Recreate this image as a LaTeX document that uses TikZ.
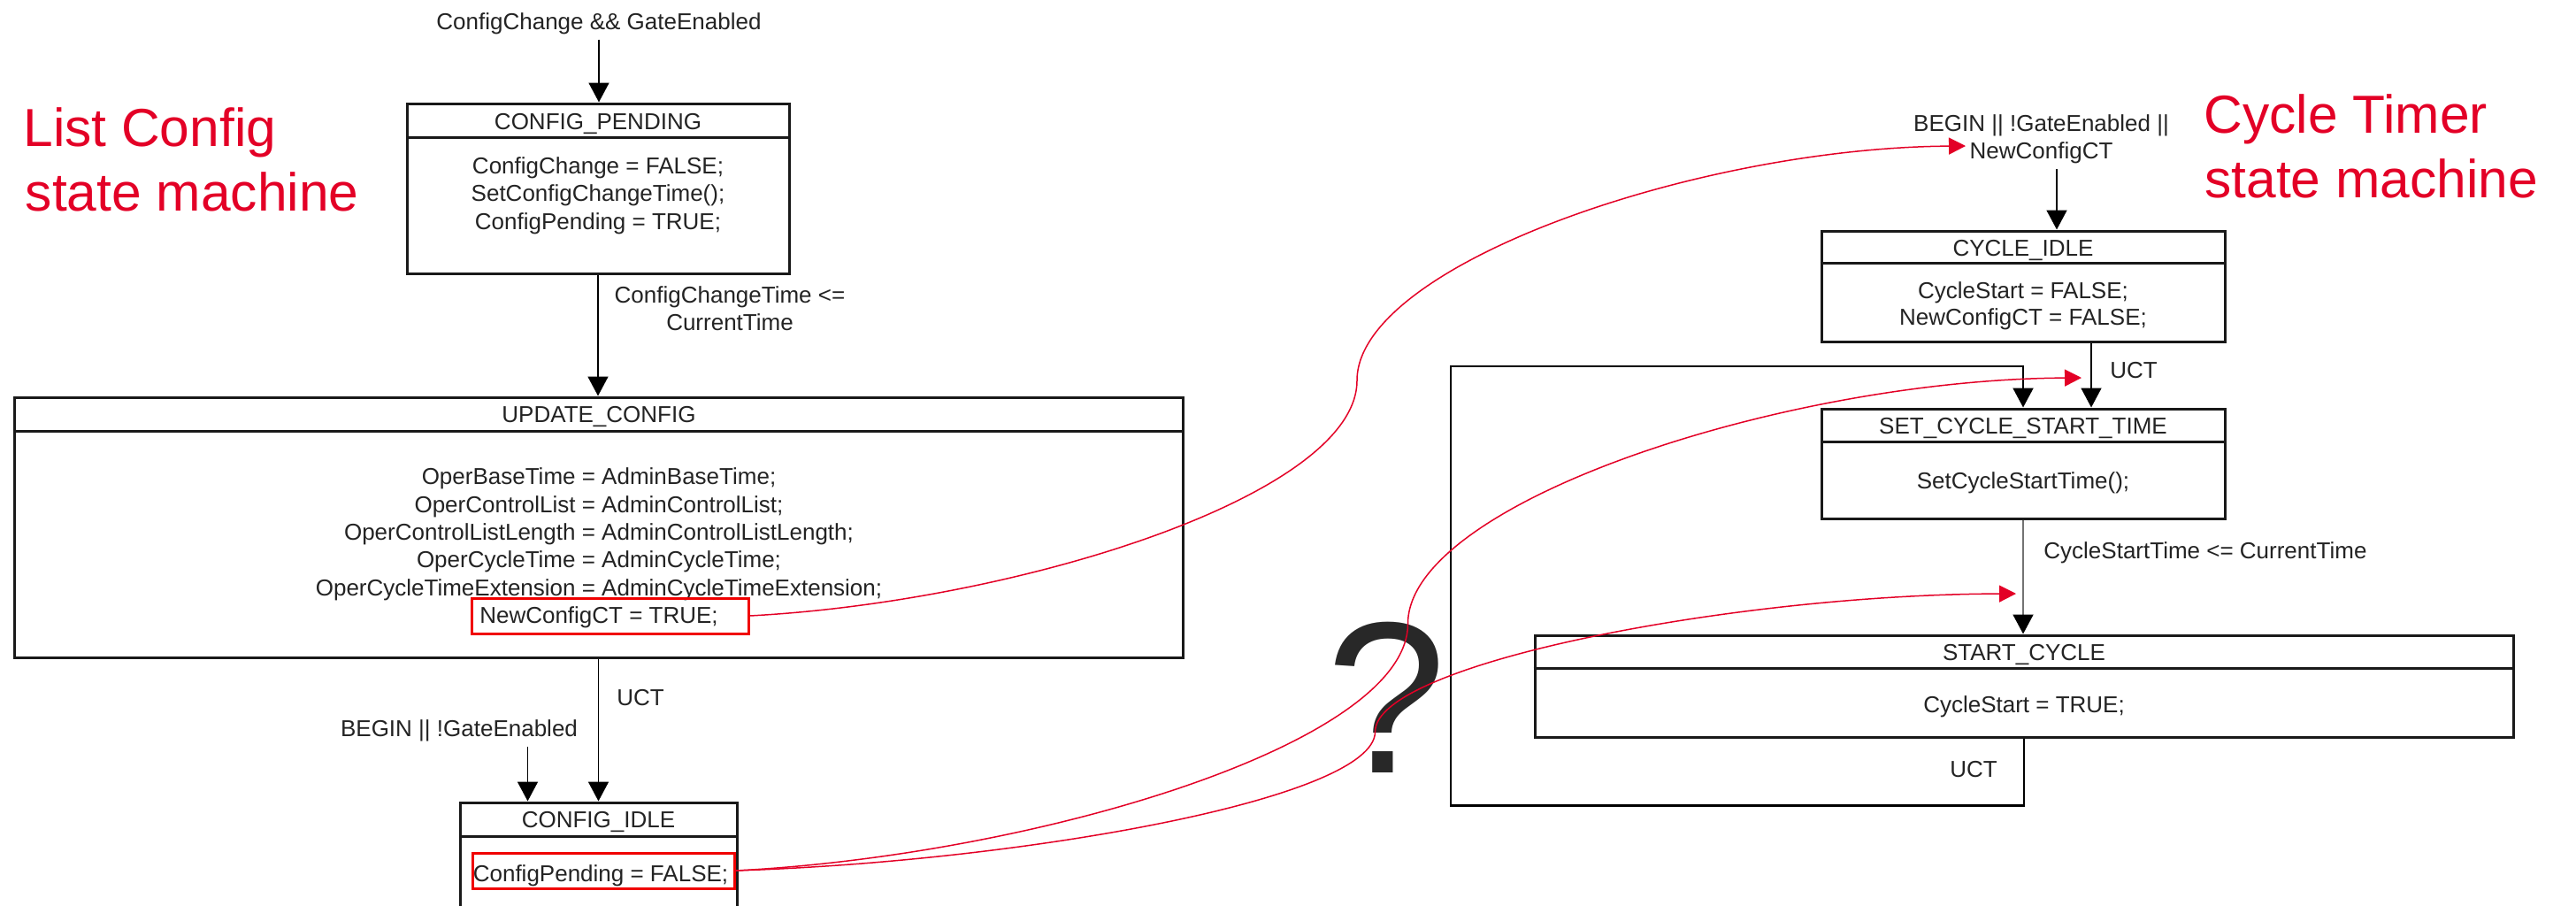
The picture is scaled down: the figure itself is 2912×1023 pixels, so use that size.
\documentclass[tikz,border=0pt]{standalone}
\usepackage{fontspec}
\setmainfont{Liberation Sans}
\usetikzlibrary{arrows.meta,calc}
\definecolor{crimson}{RGB}{227,0,38}
\definecolor{boxred}{RGB}{240,0,0}
\definecolor{ink}{RGB}{35,35,35}
\definecolor{qmark}{RGB}{40,40,40}

\begin{document}
\begin{tikzpicture}[x=0.5pt,y=-0.5pt,
  txt/.style={font=\fontsize{13}{15.6}\selectfont, text=ink, inner sep=0pt},
  lbl/.style={txt, outer sep=3pt},
  body/.style={txt, align=center, anchor=north},
  statebox/.style={draw=black!90, line width=1.5pt, inner sep=0pt},
  hdr/.style={draw=black!90, line width=1.5pt},
  conn/.style={draw=black, line width=0.9pt, -{Triangle[length=11pt,width=11.5pt,color=black]}},
  redcurve/.style={draw=crimson, line width=0.75pt, -{Triangle[length=9.5pt,width=9.5pt]}},
  hilite/.style={draw=boxred, line width=1.5pt, inner sep=0pt},
  bigred/.style={font=\fontsize{30.25}{36.5}\selectfont, text=crimson, inner sep=0pt, anchor=base west},
]
\path[use as bounding box] (0,0) rectangle (2912,1023);
\clip (0,0) rectangle (2912,1023);

% ---------- headings ----------
\node[bigred] (ttlL1) at (26,165) {List Config};
\node[bigred] (ttlL2) at (28.5,238) {state machine};
\node[bigred] (ttlR1) at (2491,150) {Cycle Timer};
\node[bigred] (ttlR2) at (2492,223) {state machine};

% ---------- list config state machine ----------
\node[lbl, anchor=base] (lblCC) at (677,33.3) {ConfigChange \&\& GateEnabled};

\node[statebox, minimum width=216pt, minimum height=96pt] (cp) at (676,213) {};
\draw[hdr] ($(cp.north west)+(0,40)$) -- ($(cp.north east)+(0,40)$);
\node[txt, anchor=base] (cpT) at (676,146.3) {CONFIG\_PENDING};
\node[body] (cpB) at (676,177.5) {ConfigChange = FALSE;\\SetConfigChangeTime();\\ConfigPending = TRUE;};

\node[statebox, minimum width=660.5pt, minimum height=147pt] (uc) at (676.5,596) {};
\draw[hdr] ($(uc.north west)+(0,40)$) -- ($(uc.north east)+(0,40)$);
\node[txt, anchor=base] (ucT) at (677,477.3) {UPDATE\_CONFIG};
\node[body, font=\fontsize{13}{15.7}\selectfont] (ucB) at (677,528.5) {OperBaseTime = AdminBaseTime;\\OperControlList = AdminControlList;\\OperControlListLength = AdminControlListLength;\\OperCycleTime = AdminCycleTime;\\OperCycleTimeExtension = AdminCycleTimeExtension;\\NewConfigCT = TRUE;};
\node[hilite, minimum width=156.5pt, minimum height=20pt] (ncbox) at (689.5,696) {};

\node[statebox, minimum width=156.5pt, minimum height=96.5pt] (ci) at (676.5,1003.5) {};
\draw[hdr] ($(ci.north west)+(0,40)$) -- ($(ci.north east)+(0,40)$);
\node[txt, anchor=base] (ciT) at (676.5,935.3) {CONFIG\_IDLE};
\node[txt, anchor=base] (ciB) at (679,996.3) {ConfigPending = FALSE;};
\node[hilite, minimum width=148pt, minimum height=20pt] (cpbox) at (682,984) {};

\draw[conn] (lblCC.south) -- (lblCC.south |- cp.north);
\draw[conn] (cp.south) -- (cp.south |- uc.north);
\node[txt, align=center, anchor=north] (lblCT) at (825,323.5) {ConfigChangeTime <=\\CurrentTime};
\draw[conn] (uc.south) -- (uc.south |- ci.north);
\node[txt, anchor=base west] (lblU1) at (697,797.3) {UCT};
\node[lbl, anchor=base] (lblBI) at (519,832.3) {BEGIN || !GateEnabled};
\coordinate (ciIn) at ($(ci.north)+(-80,0)$);
\draw[conn] (lblBI.south -| ciIn) -- (ciIn);

% ---------- cycle timer state machine ----------
\node[lbl, align=center, anchor=north] (lblBG) at (2307.5,123.5) {BEGIN || !GateEnabled ||\\NewConfigCT};

\node[statebox, minimum width=228pt, minimum height=62.5pt] (cyi) at (2287,323.5) {};
\draw[hdr] ($(cyi.north west)+(0,38)$) -- ($(cyi.north east)+(0,38)$);
\node[txt, anchor=base] (cyiT) at (2287,289.3) {CYCLE\_IDLE};
\node[body, font=\fontsize{13}{15}\selectfont] (cyiB) at (2287,318.5) {CycleStart = FALSE;\\NewConfigCT = FALSE;};
\coordinate (cyiIn) at ($(cyi.north)+(38,0)$);
\draw[conn] (lblBG.south -| cyiIn) -- (cyiIn);

\node[statebox, minimum width=228pt, minimum height=62pt] (sst) at (2287,524) {};
\draw[hdr] ($(sst.north west)+(0,39)$) -- ($(sst.north east)+(0,39)$);
\node[txt, anchor=base] (sstT) at (2287,490.3) {SET\_CYCLE\_START\_TIME};
\node[txt, anchor=base] (sstB) at (2287,552.3) {SetCycleStartTime();};

\coordinate (uctOut) at ($(cyi.south)+(77,0)$);
\draw[conn] (uctOut) -- (uctOut |- sst.north);
\node[txt, anchor=base west] (lblU2) at (2385,427.3) {UCT};

\node[statebox, minimum width=553pt, minimum height=57.5pt] (scyc) at (2288,775.5) {};
\draw[hdr] ($(scyc.north west)+(0,39)$) -- ($(scyc.north east)+(0,39)$);
\node[txt, anchor=base] (scycT) at (2288,746.3) {START\_CYCLE};
\node[txt, anchor=base] (scycB) at (2288,805.3) {CycleStart = TRUE;};

\draw[conn, draw=black!55] (sst.south) -- (sst.south |- scyc.north);
\node[txt, anchor=base west] (lblCST) at (2310,631.3) {CycleStartTime <= CurrentTime};

% loop back from START_CYCLE to SET_CYCLE_START_TIME
\draw[conn, line width=1.1pt] (scyc.south) -- ++(0,76) -| (1640,414) -| (sst.north);
\node[txt, anchor=base] (lblU3) at (2231,878.3) {UCT};

% ---------- open question and cross links ----------
\node[font=\fontsize{122}{130}\selectfont, text=qmark, inner sep=0pt, anchor=base] (qm) at (1567,873) {?};

\coordinate (tip1) at (2222,165);
\coordinate (tip2) at (2353,427);
\coordinate (tip3) at (2279,671);
\draw[redcurve] (ncbox.east) .. controls (1150,680) and (1534,560) .. (1534,430)
  .. controls (1534,300) and (1918,167) .. (tip1);
\draw[redcurve] (cpbox.east) .. controls (1167,967) and (1591.5,841.5) .. (1591.5,705)
  .. controls (1591.5,568.5) and (2016,429) .. (tip2);
\draw[redcurve] (cpbox.east) .. controls (1150,974) and (1554.5,903.6) .. (1554.5,827)
  .. controls (1554.5,750.4) and (1959,672) .. (tip3);
\end{tikzpicture}
\end{document}
